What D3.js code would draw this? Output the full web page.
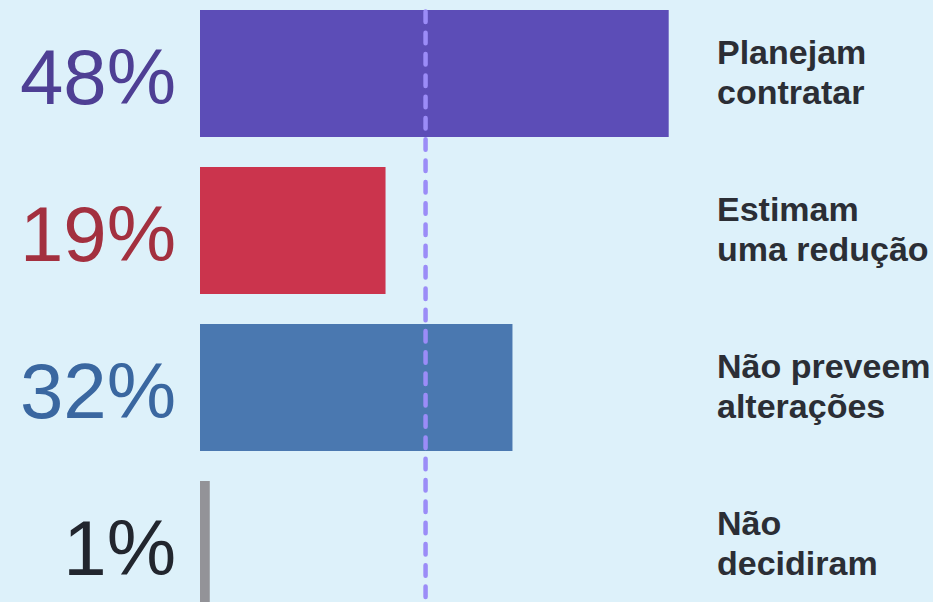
<!DOCTYPE html>
<html lang="pt">
<head>
    <meta charset="UTF-8">
    <title>Planos de contratação</title>
    <script src="https://d3js.org/d3.v7.min.js"></script>
    <style>
        html, body {
            margin: 0;
            padding: 0;
            background-color: #ddf1fa;
            overflow: hidden;
        }
        svg {
            display: block;
            font-family: "Liberation Sans", Arial, sans-serif;
        }
        .pct {
            font-size: 78px;
        }
        .label {
            font-size: 34px;
            font-weight: bold;
            fill: #2b2e35;
        }
    </style>
</head>
<body>
    <svg id="chart" width="933" height="602"></svg>

    <script>
        // Data
        const categories = ["Planejam contratar", "Estimam uma redução", "Não preveem alterações", "Não decidiram"];
        const labelLines = [["Planejam", "contratar"], ["Estimam", "uma redução"], ["Não preveem", "alterações"], ["Não", "decidiram"]];
        const values = [48, 19, 32, 1];
        const referenceValue = 23.1;

        const barColors = ["#5c4db7", "#cb344d", "#4a78b0", "#939398"];
        const textColors = ["#4e3f94", "#a3303f", "#3a67a0", "#22262e"];

        const svg = d3.select("#chart");

        // Scales
        const x = d3.scaleLinear()
            .domain([0, 48])
            .range([200, 668.7]);

        const y = d3.scaleBand()
            .domain(categories)
            .range([10, 608])
            .paddingInner(30 / 157)
            .paddingOuter(0);

        // Bars
        svg.selectAll(".bar")
            .data(categories)
            .enter()
            .append("rect")
            .attr("class", "bar")
            .attr("x", x(0))
            .attr("y", d => y(d))
            .attr("width", (d, i) => x(values[i]) - x(0))
            .attr("height", y.bandwidth())
            .attr("fill", (d, i) => barColors[i]);

        // Percentage labels on the left
        svg.selectAll(".pct")
            .data(categories)
            .enter()
            .append("text")
            .attr("class", "pct")
            .attr("x", 176)
            .attr("y", d => y(d) + y.bandwidth() / 2 + 30)
            .attr("text-anchor", "end")
            .attr("fill", (d, i) => textColors[i])
            .text((d, i) => values[i] + "%");

        // Category labels on the right
        const labels = svg.selectAll(".label")
            .data(categories)
            .enter()
            .append("text")
            .attr("class", "label")
            .attr("x", 717)
            .attr("y", d => y(d) + y.bandwidth() / 2 - 9.5);

        labels.selectAll("tspan")
            .data((d, i) => labelLines[i])
            .enter()
            .append("tspan")
            .attr("x", 717)
            .attr("dy", (d, j) => j === 0 ? 0 : 40)
            .text(d => d);

        // Dashed reference line
        svg.append("line")
            .attr("x1", x(referenceValue))
            .attr("x2", x(referenceValue))
            .attr("y1", 11.5)
            .attr("y2", 602)
            .attr("stroke", "#9b8cf7")
            .attr("stroke-width", 4.5)
            .attr("stroke-linecap", "round")
            .attr("stroke-dasharray", "10.5 10.8");
    </script>
</body>
</html>
